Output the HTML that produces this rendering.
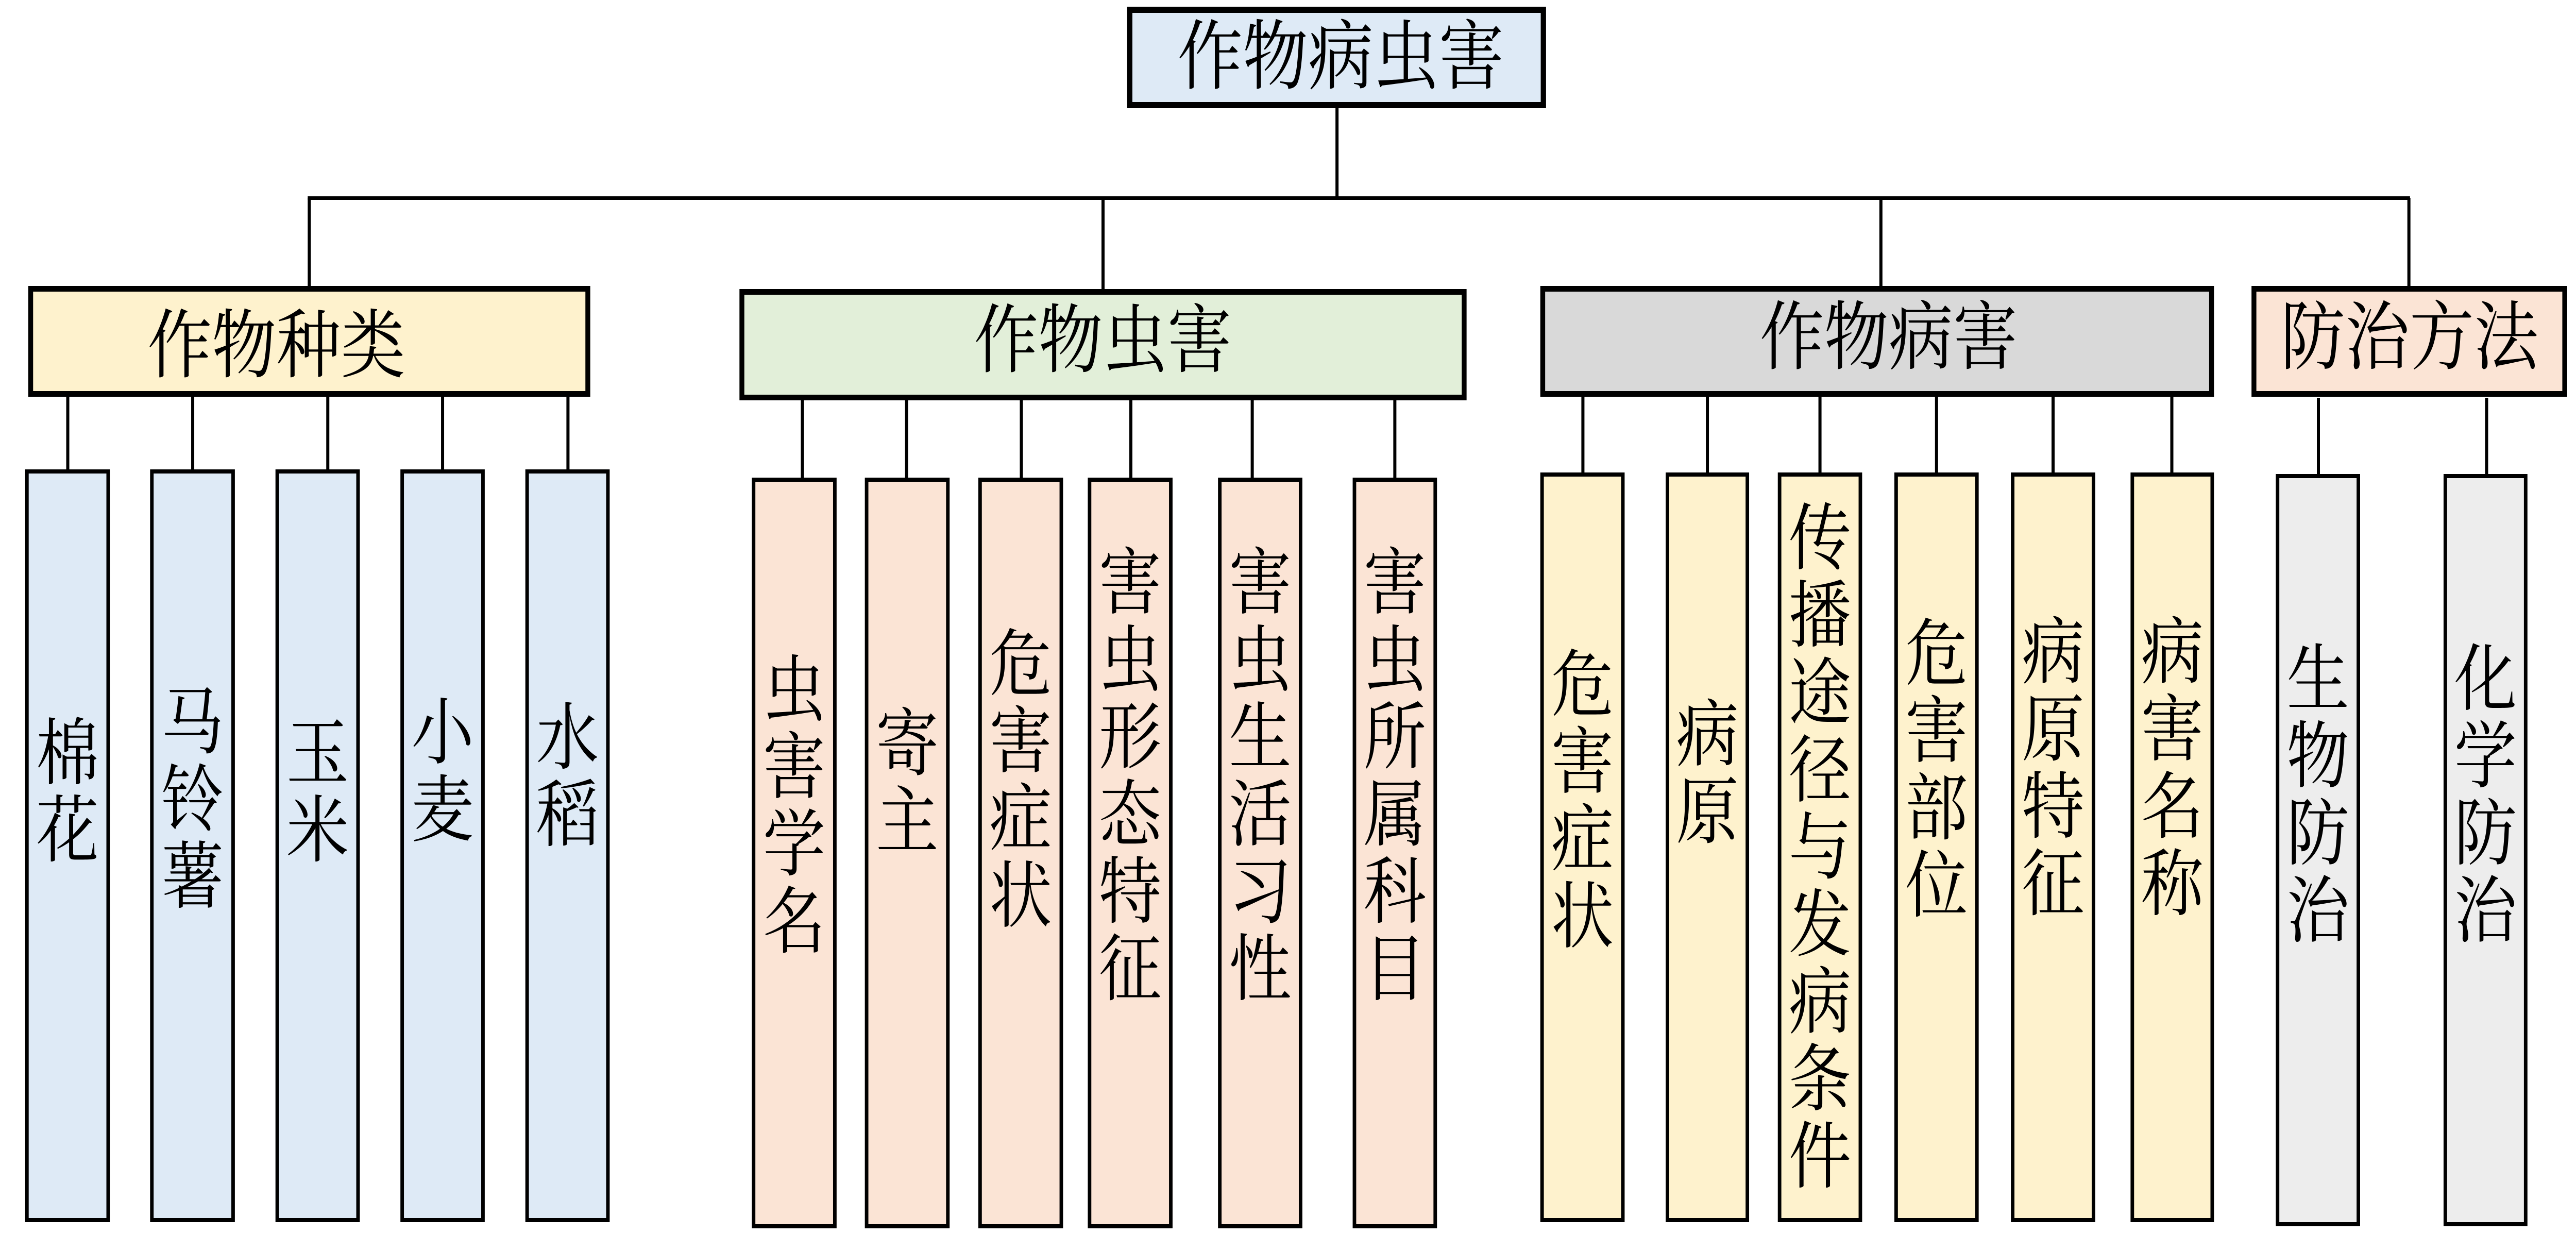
<!DOCTYPE html>
<html><head><meta charset="utf-8">
<style>
html,body{margin:0;padding:0;background:#fff;overflow:hidden;}
#c{position:absolute;left:0;top:0;width:5835px;height:2395px;transform-origin:0 0;font-family:"Liberation Serif","Noto Serif CJK SC",serif;background:#fff;overflow:hidden;}
.b{position:absolute;box-sizing:border-box;border:solid #000;}
.l{position:absolute;background:#000;}
.t{position:absolute;text-align:center;color:#000;white-space:nowrap;}
.v{position:absolute;text-align:center;font-size:142px;line-height:150px;transform:translateY(-50%);}
</style></head><body>
<div id="c"></div>
<script>
const B=document.getElementById('c');
function fit(){const sx=Math.min(window.innerWidth/5835,1);let sy=Math.min(window.innerHeight/2395,1.5);if(!(sy>0))sy=sx;if(sx>0.999&&Math.abs(sy-1)<0.001){B.style.transform='none';}else{B.style.transform='scale('+sx+','+sy+')';}}
fit();window.addEventListener('resize',fit);
function box(x1,y1,x2,y2,bg,bw){const d=document.createElement('div');d.className='b';Object.assign(d.style,{left:x1+'px',top:y1+'px',width:(x2-x1)+'px',height:(y2-y1)+'px',background:bg,borderWidth:bw+'px'});B.appendChild(d);}
function line(x1,y1,x2,y2,w){const d=document.createElement('div');d.className='l';if(y1==y2){Object.assign(d.style,{left:x1+'px',top:(y1-w/2)+'px',width:(x2-x1)+'px',height:w+'px'});}else{Object.assign(d.style,{left:(x1-w/2)+'px',top:y1+'px',width:w+'px',height:(y2-y1)+'px'});}B.appendChild(d);}
function txt(cx,cy,s,fs){const d=document.createElement('div');d.className='t';d.textContent=s;Object.assign(d.style,{left:(cx-360)+'px',width:'720px',top:(cy-fs*0.6)+'px',fontSize:fs+'px',lineHeight:(fs*1.2)+'px'});B.appendChild(d);}
function vt(x1,x2,cy,s){const d=document.createElement('div');d.className='v';d.innerHTML=s.split('').join('<br>');Object.assign(d.style,{left:x1+'px',width:(x2-x1)+'px',top:cy+'px'});B.appendChild(d);}
line(697,384,5459,384,7);
line(3028,205,3028,384,7);
line(700,384,700,558,7);
line(2498,384,2498,564,7);
line(4260,384,4260,558,7);
line(5456,384,5456,558,7);
box(2553,13,3502,210,'#deeaf6',12);
txt(3027,113,'作物病虫害',148);
box(64,555,1337,770,'#fef2cd',11); txt(626,673,'作物种类',146);
box(1675,561,3322,777,'#e2efd9',11); txt(2498,663,'作物虫害',146);
box(3489,555,5015,770,'#d9d9d9',11); txt(4278,657,'作物病害',146);
box(5100,555,5815,770,'#fbe4d5',11); txt(5458,657,'防治方法',146);
const groups=[
 {top:911,bot:2372,y0:770,bg:'#deeaf6',items:[[57,249,'棉花',1538,153],[340,532,'马铃薯',1553,436],[624,815,'玉米',1538,742],[907,1098,'小麦',1498,1002],[1190,1381,'水稻',1508,1286]]},
 {top:927,bot:2384,y0:777,bg:'#fbe4d5',items:[[1703,1895,'虫害学名',1565,1817],[1959,2151,'寄主',1520,2053],[2216,2408,'危害症状',1515,2313],[2464,2656,'害虫形态特征',1507,2561],[2759,2950,'害虫生活习性',1507,2836],[3064,3255,'害虫所属科目',1507,3159]]},
 {top:917,bot:2372,y0:770,bg:'#fef2cd',items:[[3489,3680,'危害症状',1555,3585],[3773,3962,'病原',1502,3867],[4027,4218,'传播途径与发病条件',1646,4122],[4291,4482,'危害部位',1495,4386],[4555,4746,'病原特征',1492,4650],[4826,5015,'病害名称',1492,4919]]},
 {top:920,bot:2380,y0:772,bg:'#ededed',items:[[5155,5346,'生物防治',1544,5251],[5535,5725,'化学防治',1544,5632]]}
];
for(const g of groups){for(const it of g.items){line(it[4],g.y0,it[4],g.top+4,7);box(it[0],g.top,it[1],g.bot,g.bg,8);vt(it[0],it[1],it[3],it[2]);}}
</script>
</body></html>
